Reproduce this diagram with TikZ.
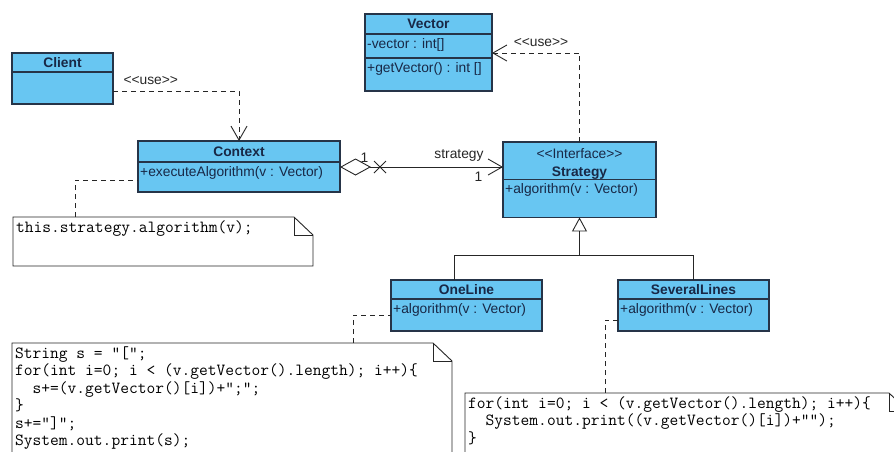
\documentclass[tikz,border=0pt]{standalone}
\usepackage{fontspec}
\setmainfont{Liberation Sans}
\usetikzlibrary{arrows.meta, positioning}

\definecolor{umlfill}{RGB}{104,198,242}
\definecolor{umledge}{RGB}{38,52,72}
\definecolor{umltext}{RGB}{24,40,70}
\newcommand{\umlfont}{\fontsize{13.8}{15.5}\selectfont}
\newcommand{\codefont}{\ttfamily\fontsize{17}{17.5}\selectfont}

\tikzstyle{classhead} = [rectangle, draw=umledge, fill=umlfill, line width=1.1pt, outer sep=0pt, inner sep=0pt, anchor=north west, align=center, text=umltext, font=\umlfont\bfseries]
\tikzstyle{classbody} = [rectangle, draw=umledge, fill=umlfill, line width=1.1pt, outer sep=0pt, inner sep=0pt]
\tikzstyle{member} = [anchor=north west, inner xsep=2pt, inner ysep=4pt, text=umltext, font=\umlfont]
\tikzstyle{notebox} = [rectangle, fill=white, outer sep=0pt, anchor=north west]
\tikzstyle{codetext} = [anchor=north west, inner xsep=3pt, inner ysep=3pt, align=left, font=\codefont]
\tikzstyle{tag} = [text=black!85, font=\umlfont]
\tikzstyle{link} = [line width=0.9pt, draw=black!85]
\tikzstyle{usedep} = [link, dash pattern=on 5pt off 4pt, -{Straight Barb[length=14pt, width=16pt]}]
\tikzstyle{notelink} = [link, dash pattern=on 5pt off 4pt]
\tikzstyle{assoc} = [link, {Diamond[open, length=31pt, width=17pt]}-{Straight Barb[length=14pt, width=16pt]}]
\tikzstyle{realize} = [link, -{Triangle[open, length=14pt, width=15pt]}]

% outline of a note with its folded corner
\newcommand{\notefold}[1]{%
  \draw[link] (#1.north west) -- ([xshift=-19]#1.north east) -- ([yshift=-18]#1.north east)
    -- (#1.south east) -- (#1.south west) -- cycle;
  \draw[link] ([xshift=-19]#1.north east) |- ([yshift=-18]#1.north east);
}

\begin{document}
\begin{tikzpicture}[x=1pt, y=-1pt]
\useasboundingbox (0,0) rectangle (894,451);

% classes
\node (client) [classhead, minimum width=101, minimum height=19] at (12,53) {Client};
\node (clientbody) [classbody, minimum width=101, minimum height=32, below=0pt of client] {};

\node (vector) [classhead, minimum width=127, minimum height=20] at (365,14) {Vector};
\node (vectorattrs) [classbody, minimum width=127, minimum height=24, below=0pt of vector] {};
\node (vectorops) [classbody, minimum width=127, minimum height=33, below=0pt of vectorattrs] {};
\node [member] at (vectorattrs.north west) {-vector : int[]};
\node [member] at (vectorops.north west) {+getVector() : int []};

\node (context) [classhead, minimum width=202, minimum height=21] at (138,141) {Context};
\node (contextops) [classbody, minimum width=202, minimum height=30, below=0pt of context] {};
\node [member] at (contextops.north west) {+executeAlgorithm(v : Vector)};

\node (strategy) [classhead, minimum width=153, minimum height=37] at (503,142) {\rule{0pt}{16pt}{\mdseries <{}<Interface>{}>}\\[3pt]Strategy};
\node (strategyops) [classbody, minimum width=153, minimum height=38, below=0pt of strategy] {};
\node [member] at (strategyops.north west) {+algorithm(v : Vector)};

\node (oneline) [classhead, minimum width=151, minimum height=19] at (391,280) {OneLine};
\node (onelineops) [classbody, minimum width=151, minimum height=32, below=0pt of oneline] {};
\node [member] at (onelineops.north west) {+algorithm(v : Vector)};

\node (severallines) [classhead, minimum width=151, minimum height=19] at (618,280) {SeveralLines};
\node (severalops) [classbody, minimum width=151, minimum height=32, below=0pt of severallines] {};
\node [member] at (severalops.north west) {+algorithm(v : Vector)};

% notes
\node (ctxnote) [notebox, minimum width=300, minimum height=49] at (13,217) {};
\notefold{ctxnote}
\node [codetext] at (ctxnote.north west) {this.strategy.algorithm(v);};

\node (onenote) [notebox, minimum width=440, minimum height=118] at (12,343) {};
\notefold{onenote}
\node [codetext] at (onenote.north west) {String s = "[";\\
for(int i=0; i < (v.getVector().length); i++)\{\\
\phantom{xx}s+=(v.getVector()[i])+";";\\
\}\\
s+="]";\\
System.out.print(s);};

\node (severalnote) [notebox, minimum width=443, minimum height=70] at (465,393) {};
\notefold{severalnote}
\node [codetext] at (severalnote.north west) {for(int i=0; i < (v.getVector().length); i++)\{\\
\phantom{xx}System.out.print((v.getVector()[i])+"");\\
\}};

% dependencies
\draw [usedep] ([yshift=-3]clientbody.east) -| node[tag, pos=0.15, above=3pt] {<{}<use>{}>} (context.north);
\draw [usedep] (strategy.north) |- node[tag, pos=0.72, above=3pt] {<{}<use>{}>} ([yshift=-7]vectorattrs.east);

% aggregation Context -> Strategy
\coordinate (aggr) at ([yshift=-5]contextops.north east);
\draw [assoc] (aggr) -- node[tag, pos=0.15, above=1pt] {1} node[tag, pos=0.73, above=2pt] {strategy}
  node[tag, pos=0.85, below=1pt] {1} (aggr -| strategy.west);
\draw [link] ([xshift=40]aggr) +(-6,-6) -- +(6,6) +(-6,6) -- +(6,-6);

% realization
\coordinate (branch) at ([yshift=-38]strategyops.south);
\draw [realize] (branch) -- (strategyops.south);
\draw [link] ([xshift=-12]oneline.north) |- (branch) -| (severallines.north);

% note anchors
\draw [notelink] ([xshift=62]ctxnote.north west) |- ([yshift=-3]contextops.west);
\draw [notelink] ([xshift=341]onenote.north west) |- (onelineops.west);
\draw [notelink] ([xshift=140]severalnote.north west) |- ([yshift=-5]severalops.west);
\end{tikzpicture}
\end{document}
